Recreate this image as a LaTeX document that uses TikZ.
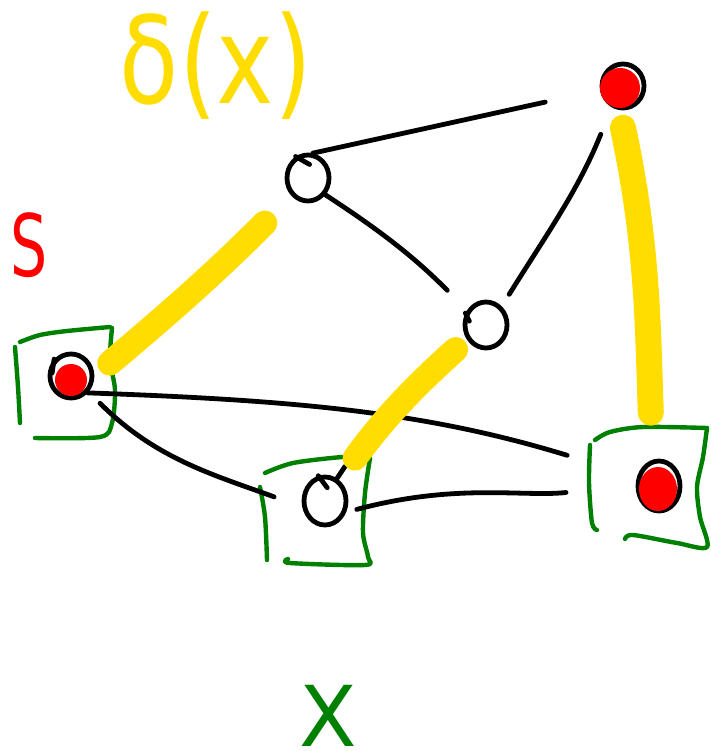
\documentclass[tikz,border=0pt]{standalone}
\usepackage{fontspec}
\setmainfont{DejaVu Sans}
\usetikzlibrary{shapes.geometric}
\definecolor{hlyellow}{RGB}{255,221,0}
\definecolor{boxgreen}{RGB}{0,128,0}
\definecolor{markred}{RGB}{255,0,0}
\begin{document}
\begin{tikzpicture}[x=1pt,y=-1pt,
  ink/.style={line width=4.8pt,line cap=round,line join=round},
  edge/.style={ink,draw=black},
  vtx/.style={ellipse,draw=black,line width=4.8pt,inner sep=0pt,
    minimum width=42pt,minimum height=46pt},
  frame/.style={ink,line width=4.4pt,draw=boxgreen},
  hl/.style={line width=25pt,line cap=round,draw=hlyellow},
  lbl/.style={inner sep=0pt,anchor=base}]

\useasboundingbox (0,0) rectangle (710,751);

% graph vertices
\node[vtx] (a) at (308,178) {};
\node[vtx,minimum height=44pt] (b) at (623,86) {};
\node[vtx] (c) at (486,325) {};
\node[vtx,minimum height=44pt] (d) at (71,376) {};
\node[vtx,minimum height=48pt] (e) at (325,501) {};
\node[vtx,minimum height=50pt] (f) at (659,486) {};

% pen hooks where the vertex outlines were started
\draw[edge] (a.120) -- ++(14,8);
\draw[edge] (c.150) -- ++(4,8);
\draw[edge] (e.105) -- ++(9,12);
\draw[edge] (d.135) -- ++(-2,14);

% marked vertices
\fill[markred] (620,88) circle[radius=20pt];
\fill[markred] (71,380) circle[radius=16pt];
\fill[markred] (658,489) ellipse[x radius=19pt,y radius=22pt];

% green frames around the chosen vertices
\draw[frame] plot[smooth] coordinates {(20,342) (40,335) (67,331) (110,327)};
\draw[frame] plot[smooth] coordinates {(112,328) (110,360) (115,390) (112,423) (100,437) (35,438)};
\draw[frame] plot[smooth] coordinates {(15,347) (18,387) (20,423)};

\draw[frame] plot[smooth] coordinates {(265,473) (293,463) (343,457) (370,458)};
\draw[frame] plot[smooth] coordinates {(370,458) (365,493) (363,533) (368,557) (365,565) (290,563) (288,559)};
\draw[frame] plot[smooth] coordinates {(260,487) (265,517) (267,560)};

\draw[frame] plot[smooth] coordinates {(595,440) (610,432) (643,427) (707,428)};
\draw[frame] plot[smooth] coordinates {(707,428) (703,457) (697,487) (700,517) (707,547) (677,543) (633,535) (625,539)};
\draw[frame] plot[smooth] coordinates {(590,445) (589,483) (592,523) (597,530)};

% graph edges
\draw[edge,shorten >=56pt] (a.79) -- (b.190);
\draw[edge,shorten >=28pt] (a.-44) to[bend left=6] (c.142);
\draw[edge,shorten <=29pt,shorten >=14pt] (b.242) to[out=-112,in=58] (c.50);
\draw[edge,shorten >=73pt] (d.-45) to[out=-2,in=163] (f.157);
\draw[edge,shorten <=16pt,shorten >=30pt] (d.-42) to[out=-45,in=160] (e.195);
\draw[edge,shorten <=11pt,shorten >=70pt] (e.-28) to[out=15,in=186] (f.178);
\draw[edge] (e.62) -- ++(8,-12);

% highlighted path segments
\draw[hl,shorten <=20pt,shorten >=38pt] (d.0) to[out=40,in=225] (a.228);
\draw[hl,shorten <=27pt,shorten >=15pt] (e.56) to[out=54,in=222] (c.217);
\draw[hl,line width=26pt,shorten <=18pt,shorten >=47pt] (b.261) to[out=-78,in=92] (f.104);

% labels
\node[lbl,text=hlyellow,font=\fontsize{121}{121}\selectfont] (delta) at (216,104) {\scalebox{0.8}[1]{δ(x)}};
\node[lbl,text=markred,font=\fontsize{86}{86}\selectfont] (slabel) at (29,276) {\scalebox{0.68}[1]{S}};
\node[lbl,text=boxgreen,font=\fontsize{84}{84}\selectfont] (xlabel) at (328,746) {X};
\end{tikzpicture}
\end{document}
